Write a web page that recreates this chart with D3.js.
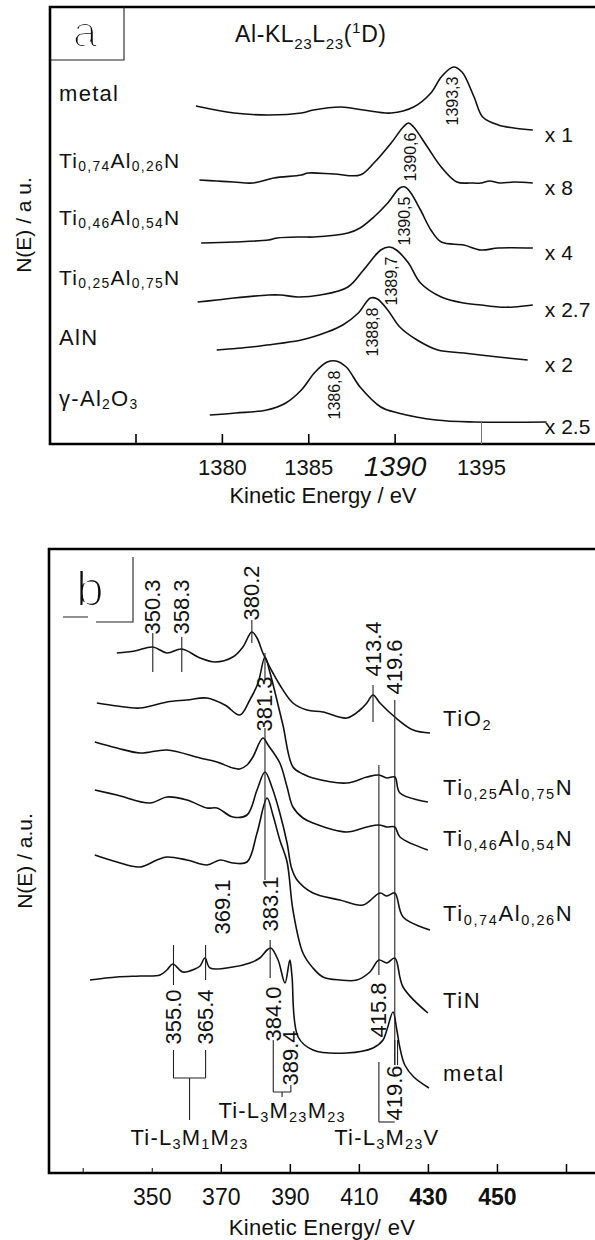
<!DOCTYPE html>
<html>
<head>
<meta charset="utf-8">
<script src="https://cdn.jsdelivr.net/npm/d3@7"></script>
<style>
body { margin: 0; background: #fff; }
svg { display: block; }
.curve { fill: none; stroke: #111; stroke-width: 1.6; stroke-linejoin: round; }
.frame { stroke: #000; stroke-width: 2.6; fill: none; }
.thin { stroke: #222; stroke-width: 1.1; fill: none; }
text { font-family: "Liberation Sans", Arial, sans-serif; fill: #111; }
.narrow { font-family: "Liberation Sans Narrow", "Arial Narrow", sans-serif; }
</style>
</head>
<body>
<div id="chart"></div>
<script>
// ---------- panel a : Al-KL23L23 ----------
const aSamples = ["metal", "Ti_{0,74}Al_{0,26}N", "Ti_{0,46}Al_{0,54}N", "Ti_{0,25}Al_{0,75}N", "AlN", "γ-Al_{2}O_{3}"];
const aFactors = ["x 1", "x 8", "x 4", "x 2.7", "x 2", "x 2.5"];
const aPeakText = ["1393,3", "1390,6", "1390,5", "1389,7", "1388,8", "1386,8"];
const aPeakAt = [1393.35, 1390.9, 1390.6, 1389.8, 1388.7, 1386.5];
const aTicks = [1375, 1380, 1385, 1390, 1395];

const aMetal = [[1378.5,33.8],[1380.7,33.1],[1382.7,32.9],[1384.6,33.1],[1385.3,33.4],[1386.9,33.7],[1388.2,33.4],[1389.8,33.1],[1391.1,33.7],[1392.1,35.1],[1392.7,36.7],[1393.4,37.7],[1393.9,37.2],[1394.6,34.7],[1395.1,32.7],[1396.0,31.9],[1396.9,31.6],[1398.0,31.4]];
const aTi74 = [[1378.7,26.4],[1379.7,26.3],[1380.7,26.2],[1381.8,26.1],[1383.0,26.6],[1384.6,26.9],[1385.0,27.1],[1386.5,27.0],[1388.0,26.9],[1388.8,28.1],[1389.8,30.1],[1390.5,31.7],[1390.8,32.1],[1391.1,31.7],[1391.9,29.7],[1392.7,27.7],[1393.6,26.2],[1394.4,26.1],[1395.0,26.1],[1395.5,26.3],[1396.1,26.1],[1396.9,26.2],[1398.0,26.1]];
const aTi46 = [[1378.8,20.1],[1380.7,20.2],[1382.7,20.4],[1383.2,20.6],[1384.6,20.7],[1385.3,20.7],[1387.3,21.1],[1388.0,21.6],[1388.8,22.7],[1389.6,24.1],[1390.3,25.6],[1390.6,25.7],[1390.9,25.2],[1391.5,23.4],[1392.1,21.4],[1392.7,20.2],[1394.0,19.9],[1395.0,19.4],[1396.0,19.6],[1398.0,19.6]];
const aTi25 = [[1378.6,14.2],[1379.7,14.4],[1380.7,14.6],[1382.7,14.9],[1383.4,14.9],[1384.4,14.7],[1385.7,14.9],[1387.3,15.7],[1388.2,17.4],[1389.2,19.4],[1389.7,19.7],[1390.1,19.4],[1390.8,18.1],[1391.5,16.1],[1392.7,14.7],[1394.0,14.1],[1395.0,13.9],[1396.0,13.7],[1396.9,13.7],[1398.0,13.9]];
const aAlN = [[1379.7,9.4],[1381.7,9.7],[1382.6,9.9],[1384.6,10.4],[1386.1,11.2],[1387.0,11.9],[1387.9,13.1],[1388.6,14.6],[1389.0,14.5],[1389.6,13.4],[1390.3,11.7],[1391.3,10.4],[1392.5,9.4],[1394.0,9.1],[1396.0,8.7],[1397.7,8.4]];
const aAl2O3 = [[1379.3,2.9],[1380.8,3.1],[1382.6,3.4],[1383.7,4.1],[1384.6,5.4],[1385.4,7.2],[1386.1,8.2],[1386.6,8.3],[1387.2,7.7],[1388.0,5.7],[1389.2,3.7],[1390.2,3.1],[1392.4,2.4],[1394.6,2.2],[1398.8,2.2]];
const aCurves = [aMetal, aTi74, aTi46, aTi25, aAlN, aAl2O3];

// ---------- panel b : Ti LMM ----------
const bSamples = ["TiO_{2}", "Ti_{0,25}Al_{0,75}N", "Ti_{0,46}Al_{0,54}N", "Ti_{0,74}Al_{0,26}N", "TiN", "metal"];
const bTicks = [330, 350, 370, 390, 410, 430, 450, 470];

const bTiO2 = [[339.9,52.0],[345.1,52.2],[350.3,52.6],[354.4,52.0],[358.7,52.4],[364.0,51.5],[368.3,51.1],[373.5,51.6],[376.4,52.6],[379.0,54.1],[380.5,53.5],[382.2,52.0],[385.1,50.0],[387.1,48.8],[390.9,47.0],[395.0,46.3],[399.6,46.1],[406.5,45.5],[410.3,46.3],[412.3,47.0],[414.1,47.8],[416.1,47.0],[420.4,45.6],[425.7,44.3],[430.6,44.0]];
const bTi25 = [[334.1,47.0],[339.9,46.7],[346.6,46.5],[354.4,47.1],[360.2,47.3],[366.0,47.5],[371.2,46.8],[375.5,45.8],[378.4,47.3],[380.8,49.0],[382.8,51.6],[384.2,50.1],[385.9,47.8],[388.0,44.8],[390.9,40.6],[393.8,39.9],[396.7,39.5],[406.5,39.0],[412.3,39.6],[415.8,39.8],[418.1,39.5],[420.4,39.6],[421.9,38.0],[430.0,37.1]];
const bTi46 = [[333.5,43.1],[339.9,42.5],[346.6,42.0],[354.4,42.3],[364.0,41.5],[368.9,41.1],[373.5,40.5],[375.5,40.4],[377.6,40.8],[379.3,41.6],[382.2,43.5],[383.7,42.8],[387.1,41.0],[389.2,38.6],[390.9,36.6],[393.8,35.5],[396.7,35.0],[406.5,34.1],[412.3,34.6],[415.8,34.8],[418.1,34.6],[420.4,34.6],[421.9,33.6],[430.0,32.3]];
const bTi74 = [[333.5,38.3],[339.9,37.8],[349.5,37.0],[354.4,37.6],[360.2,37.3],[366.0,36.5],[368.9,36.5],[373.5,35.6],[377.6,35.8],[380.5,38.3],[382.8,40.1],[384.8,38.6],[387.1,36.0],[389.2,33.0],[390.5,30.5],[392.1,29.3],[396.7,28.0],[404.5,27.3],[411.2,26.8],[416.1,28.0],[418.1,27.7],[420.4,28.0],[422.8,25.6],[430.6,24.3]];
const bTiN = [[333.5,31.8],[339.9,31.1],[346.6,30.6],[351.5,31.3],[354.4,31.6],[360.2,31.3],[366.0,30.8],[369.8,31.3],[373.5,31.0],[377.6,31.1],[380.5,34.0],[383.4,37.5],[385.1,35.8],[387.1,33.3],[389.2,31.1],[390.9,26.3],[393.8,22.0],[396.7,20.5],[399.6,19.6],[404.5,19.3],[409.4,19.3],[413.2,20.1],[415.8,21.3],[418.1,21.0],[420.4,21.5],[422.8,18.6],[430.0,16.0]];
const bMetal = [[332.1,19.3],[339.9,19.6],[346.6,19.7],[352.4,19.8],[354.4,20.3],[356.1,20.9],[359.0,20.1],[362.5,20.4],[364.0,20.7],[365.4,21.5],[366.9,20.5],[373.5,20.6],[378.4,21.0],[381.3,21.5],[383.4,22.3],[384.5,22.5],[386.6,21.3],[388.6,19.0],[390.0,21.3],[390.6,19.8],[392.4,13.6],[396.7,12.3],[406.5,12.0],[414.1,12.5],[417.0,13.3],[418.1,14.3],[419.9,16.1],[421.0,14.3],[421.9,12.5],[423.3,10.8],[425.9,9.6],[430.3,8.5]];
const bCurves = [bTiO2, bTi25, bTi46, bTi74, bTiN, bMetal];

// peak markers: text, energy where drawn, label centre (a.u.), marker segments (a.u.)
const bPeaks = [
  {t: "350.3", at: 350.3, ly: 56.6, seg: [[54.0, 50.1]]},
  {t: "358.3", at: 358.7, ly: 56.6, seg: [[53.6, 50.1]]},
  {t: "380.2", at: 379.0, ly: 58.0, seg: [[55.3, 53.0]]},
  {t: "413.4", at: 414.1, ly: 52.4, seg: [[48.8, 45.1]]},
  {t: "419.6", at: 420.4, ly: 50.6, seg: [[47.3, 10.8]]},
  {t: "381.3", at: 382.8, ly: 46.9, seg: [[52.0, 49.3], [44.5, 29.3]]},
  {t: "415.8", at: 415.8, ly: 16.3, seg: [[40.8, 19.8], [11.1, 5.1]]},
  {t: "383.1", at: 384.3, ly: 26.9, seg: [[23.3, 19.5]]},
  {t: "369.1", at: 370.6, ly: 26.6, seg: []},
  {t: "355.0", at: 356.3, ly: 15.6, seg: [[22.8, 18.8], [12.3, 9.5]]},
  {t: "365.4", at: 365.6, ly: 15.6, seg: [[22.8, 19.3], [12.3, 9.5]]},
  {t: "384.0", at: 385.2, ly: 15.9, seg: [[13.3, 8.1]]},
  {t: "389.4", at: 390.3, ly: 11.5, seg: [[8.8, 8.1]]},
  {t: "419.6", at: 420.4, ly: 8.0, seg: [[13.3, 10.8]]}
];
const bGroups = [
  {t: "Ti-L_{3}M_{1}M_{23}", from: 356.3, to: 365.6, y: 9.5, stem: 5.3, ly: 3.6},
  {t: "Ti-L_{3}M_{23}M_{23}", from: 385.2, to: 390.3, y: 8.1, stem: 7.6, ly: 6.3},
  {t: "Ti-L_{3}M_{23}V", from: 415.8, to: 420.4, y: 5.1, stem: 5.1, ly: 3.6}
];

// ---------- helpers ----------
const W = 595, H = 1240;
const svg = d3.select("#chart").append("svg").attr("width", W).attr("height", H);

// thins the stroke of the big panel letters
svg.append("defs").append("filter").attr("id", "thin")
  .append("feMorphology").attr("operator", "erode").attr("radius", 1.0);

function rich(sel, str, size) {
  const re = /([_^])\{([^}]*)\}|([^_^]+)/g;
  let m, shift = 0;
  while ((m = re.exec(str))) {
    if (m[3]) {
      sel.append("tspan").attr("dy", -shift).text(m[3]);
      shift = 0;
    } else {
      const s = m[1] === "_" ? size * 0.3 : -size * 0.38;
      sel.append("tspan").attr("dy", s - shift).attr("font-size", size * 0.66).text(m[2]);
      shift = s;
    }
  }
  return sel;
}

function vtext(g, x, y, str, size, cls) {
  return g.append("text")
    .attr("class", cls || null)
    .attr("transform", "translate(" + x + "," + y + ") rotate(-90)")
    .attr("text-anchor", "middle")
    .attr("dominant-baseline", "central")
    .attr("font-size", size)
    .text(str);
}

// ================= panel a =================
const xa = d3.scaleLinear().domain([1375, 1395]).range([135.5, 481]);
const ya = d3.scaleLinear().domain([0, 43.7]).range([444, 7]);
const ga = svg.append("g");

const lineA = d3.line().x(d => xa(d[0])).y(d => ya(d[1])).curve(d3.curveCatmullRom);

ga.selectAll("path.curve").data(aCurves).join("path")
  .attr("class", "curve").attr("d", lineA);

// frame
ga.append("path").attr("class", "frame")
  .attr("d", "M" + W + "," + ya(43.7) + "H50V" + ya(0) + "H" + W);
ga.append("path").attr("class", "thin").attr("d", "M124," + ya(43.7) + "V60H50");

// axis
const axA = ga.append("g").attr("transform", "translate(0," + ya(0) + ")")
  .call(d3.axisBottom(xa).tickValues(aTicks).tickSize(-10).tickPadding(15)
    .tickFormat(d => d === 1375 ? "" : d));
axA.select(".domain").remove();
axA.selectAll(".tick line").attr("stroke", "#000").attr("stroke-width", 1.6);
axA.selectAll(".tick text").attr("class", "narrow").attr("font-size", 22).attr("fill", "#111");
axA.selectAll(".tick").filter(d => d === 1395).select("line")
  .attr("y2", -22).attr("stroke", "#777").attr("stroke-width", 1);
axA.selectAll(".tick").filter(d => d === 1390).select("text")
  .attr("class", null)
  .attr("font-family", "'Liberation Serif', serif").attr("font-style", "italic")
  .attr("font-size", 28).attr("dy", "0.62em");

ga.append("text").attr("x", 323).attr("y", 503).attr("text-anchor", "middle")
  .attr("font-size", 22).text("Kinetic Energy / eV");
vtext(ga, 23, 225, "N(E) / a u.", 21);

// panel letter and title
ga.append("text").attr("x", 85).attr("y", 47).attr("text-anchor", "middle")
  .attr("font-size", 44).attr("filter", "url(#thin)").text("a");
rich(ga.append("text").attr("x", 235).attr("y", 42).attr("font-size", 23)
  .attr("letter-spacing", 0.6), "Al-KL_{23}L_{23}(^{1}D)", 23);

// sample labels
const aLabelY = [35.1, 28.4, 22.7, 16.7, 10.7, 4.6];
aSamples.forEach((s, i) => {
  const t = ga.append("text").attr("x", 59).attr("y", ya(aLabelY[i]))
    .attr("dominant-baseline", "central")
    .attr("font-size", i >= 1 && i <= 3 ? 21 : 22).attr("letter-spacing", 1.3);
  rich(t, s, 21);
});

// scale factors
aFactors.forEach((f, i) => {
  const c = aCurves[i];
  ga.append("text").attr("x", xa(1398) + 12).attr("y", ya(c[c.length - 1][1]) + 4)
    .attr("dominant-baseline", "central").attr("font-size", 21).text(f);
});

// peak positions
aPeakText.forEach((p, i) => {
  const top = d3.max(aCurves[i], d => d[1]);
  vtext(ga, xa(aPeakAt[i]), ya(top) + 34, p, 16, "narrow");
});

// ================= panel b =================
const xb = d3.scaleLinear().domain([330, 470]).range([82.7, 566]);
const yb = d3.scaleLinear().domain([0, 62.4]).range([1173, 549]);
const gb = svg.append("g");

const lineB = d3.line().x(d => xb(d[0])).y(d => yb(d[1])).curve(d3.curveCatmullRom);
gb.selectAll("path.curve").data(bCurves).join("path")
  .attr("class", "curve").attr("d", lineB);

gb.append("path").attr("class", "frame")
  .attr("d", "M" + W + "," + yb(62.4) + "H49V" + yb(0) + "H" + W);

// broken box round the letter b
gb.append("path").attr("class", "thin").attr("d", "M133,557V622H96M63,617H88");
gb.append("text").attr("x", 76).attr("y", 606)
  .attr("font-size", 50).attr("filter", "url(#thin)").text("b");

const axB = gb.append("g").attr("transform", "translate(0," + yb(0) + ")")
  .call(d3.axisBottom(xb).tickValues(bTicks).tickSize(-9).tickPadding(16)
    .tickFormat(d => d >= 350 && d <= 450 ? d : ""));
axB.select(".domain").remove();
axB.selectAll(".tick line").attr("stroke", "#000").attr("stroke-width", 1.5);
axB.selectAll(".tick").filter(d => d <= 350).select("line").attr("y2", -5).attr("stroke-width", 1);
axB.selectAll(".tick text").attr("class", "narrow").attr("font-size", 23).attr("fill", "#111")
  .attr("font-weight", d => d >= 430 ? "bold" : null);

gb.append("text").attr("x", 322).attr("y", 1235).attr("text-anchor", "middle")
  .attr("font-size", 22).attr("letter-spacing", 0.3).text("Kinetic Energy/ eV");
vtext(gb, 24, 861, "N(E) / a.u.", 21);

// sample labels on the right
const bLabelY = [45.5, 38.6, 33.5, 26.0, 17.3, 10.0];
bSamples.forEach((s, i) => {
  const t = gb.append("text").attr("x", 443).attr("y", yb(bLabelY[i]))
    .attr("dominant-baseline", "central").attr("font-size", 22).attr("letter-spacing", 1.6);
  rich(t, s, 22);
});

// peak markers
bPeaks.forEach(p => {
  p.seg.forEach(s => {
    gb.append("line").attr("class", "thin")
      .attr("x1", xb(p.at)).attr("x2", xb(p.at))
      .attr("y1", yb(s[0])).attr("y2", yb(s[1]));
  });
  vtext(gb, xb(p.at), yb(p.ly), p.t, 22, "narrow");
});
// doubled line at the metal 419.6 peak
gb.append("line").attr("class", "thin")
  .attr("x1", xb(421.2)).attr("x2", xb(421.2)).attr("y1", yb(13.3)).attr("y2", yb(10.8));

// transition groups
bGroups.forEach(g => {
  const mid = (g.from + g.to) / 2;
  gb.append("path").attr("class", "thin")
    .attr("d", "M" + xb(g.from) + "," + yb(g.y) + "H" + xb(g.to) +
      "M" + xb(mid) + "," + yb(g.y) + "V" + yb(g.stem));
  const t = gb.append("text").attr("x", xb(mid)).attr("y", yb(g.ly))
    .attr("text-anchor", "middle").attr("dominant-baseline", "central")
    .attr("font-size", 22).attr("letter-spacing", 1.2);
  rich(t, g.t, 22);
});
</script>
</body>
</html>
